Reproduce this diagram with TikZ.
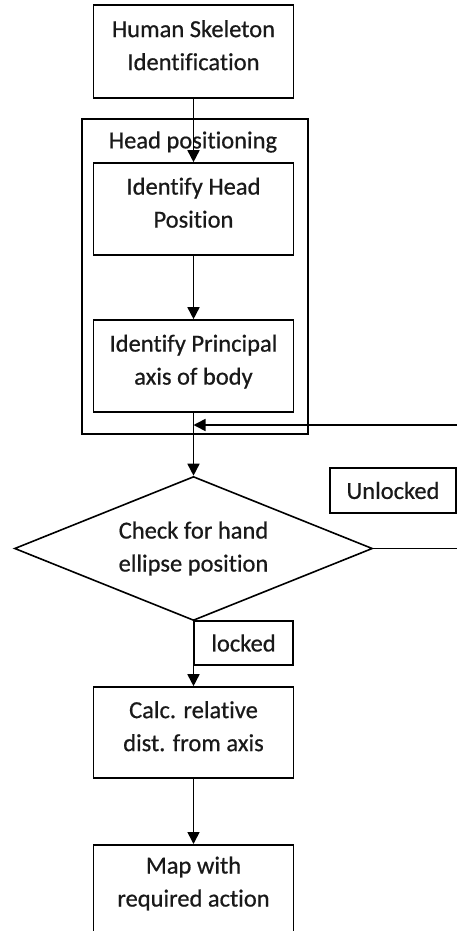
\documentclass[tikz,border=0pt]{standalone}
\usepackage{fontspec}
\setmainfont{Carlito}[Ligatures=NoCommon,FakeBold=0.6]
\usetikzlibrary{shapes.geometric,arrows.meta}
\newcommand\liftup[1]{\raisebox{4.5pt}[\height][\depth]{\begin{tabular}{@{}c@{}}#1\end{tabular}}}
\begin{document}
\begin{tikzpicture}[x=1pt,y=-1pt,
  line width=1.6pt,
  every node/.style={font=\fontsize{24.5}{33}\selectfont, text=black!90, align=center},
  stepbox/.style={draw, rectangle, minimum width=200pt, inner sep=0pt},
  flag/.style={draw, rectangle, inner sep=0pt},
  arr/.style={-{Triangle[length=12pt,width=12pt]}}]
\useasboundingbox (0,0) rectangle (457,931);
\fill[white] (0,0) rectangle (457,931);
\node[stepbox, minimum height=93pt] (skel) at (193.5,51.5) {\liftup{Human Skeleton\\Identification}};
\node[draw, rectangle, minimum width=226pt, minimum height=315pt, inner sep=0pt] (outer) at (195,276.5) {};
\node (headlbl) at (193,142) {Head positioning};
\node[stepbox, minimum height=92pt] (headpos) at (193.5,209) {\liftup{Identify Head\\Position}};
\node[stepbox, minimum height=92pt] (axis) at (193.5,366) {\liftup{Identify Principal\\axis of body}};
\node[draw, diamond, minimum width=358pt, minimum height=144pt, aspect=2.49, inner sep=0pt] (check) at (193.5,548.5) {Check for hand\\ellipse position};
\node[flag, minimum width=126pt, minimum height=45pt] (unlocked) at (393,490.5) {Unlocked};
\node[flag, minimum width=99pt, minimum height=44pt] (locked) at (243.5,643) {locked};
\node[stepbox, minimum height=91pt] (calc) at (193.5,732.5) {\liftup{Calc. relative\\dist. from axis}};
\node[stepbox, minimum height=100pt, anchor=north] (map) at (193.5,844) {};
\node (maptext) at (193.5,883.5) {Map with\\required action};
\coordinate (r1) at (462,548.5);
\coordinate (r2) at (462,425);
\coordinate (join) at (193.5,425);
\draw[arr] (skel.south) -- (headpos.north);
\draw[arr] (headpos.south) -- (axis.north);
\draw[arr] (axis.south) -- (check.north);
\draw[arr] (check.east) -- (r1) -- (r2) -- (join);
\draw[arr] (check.south) -- (calc.north);
\draw[arr] (calc.south) -- (map.north);
\end{tikzpicture}
\end{document}
